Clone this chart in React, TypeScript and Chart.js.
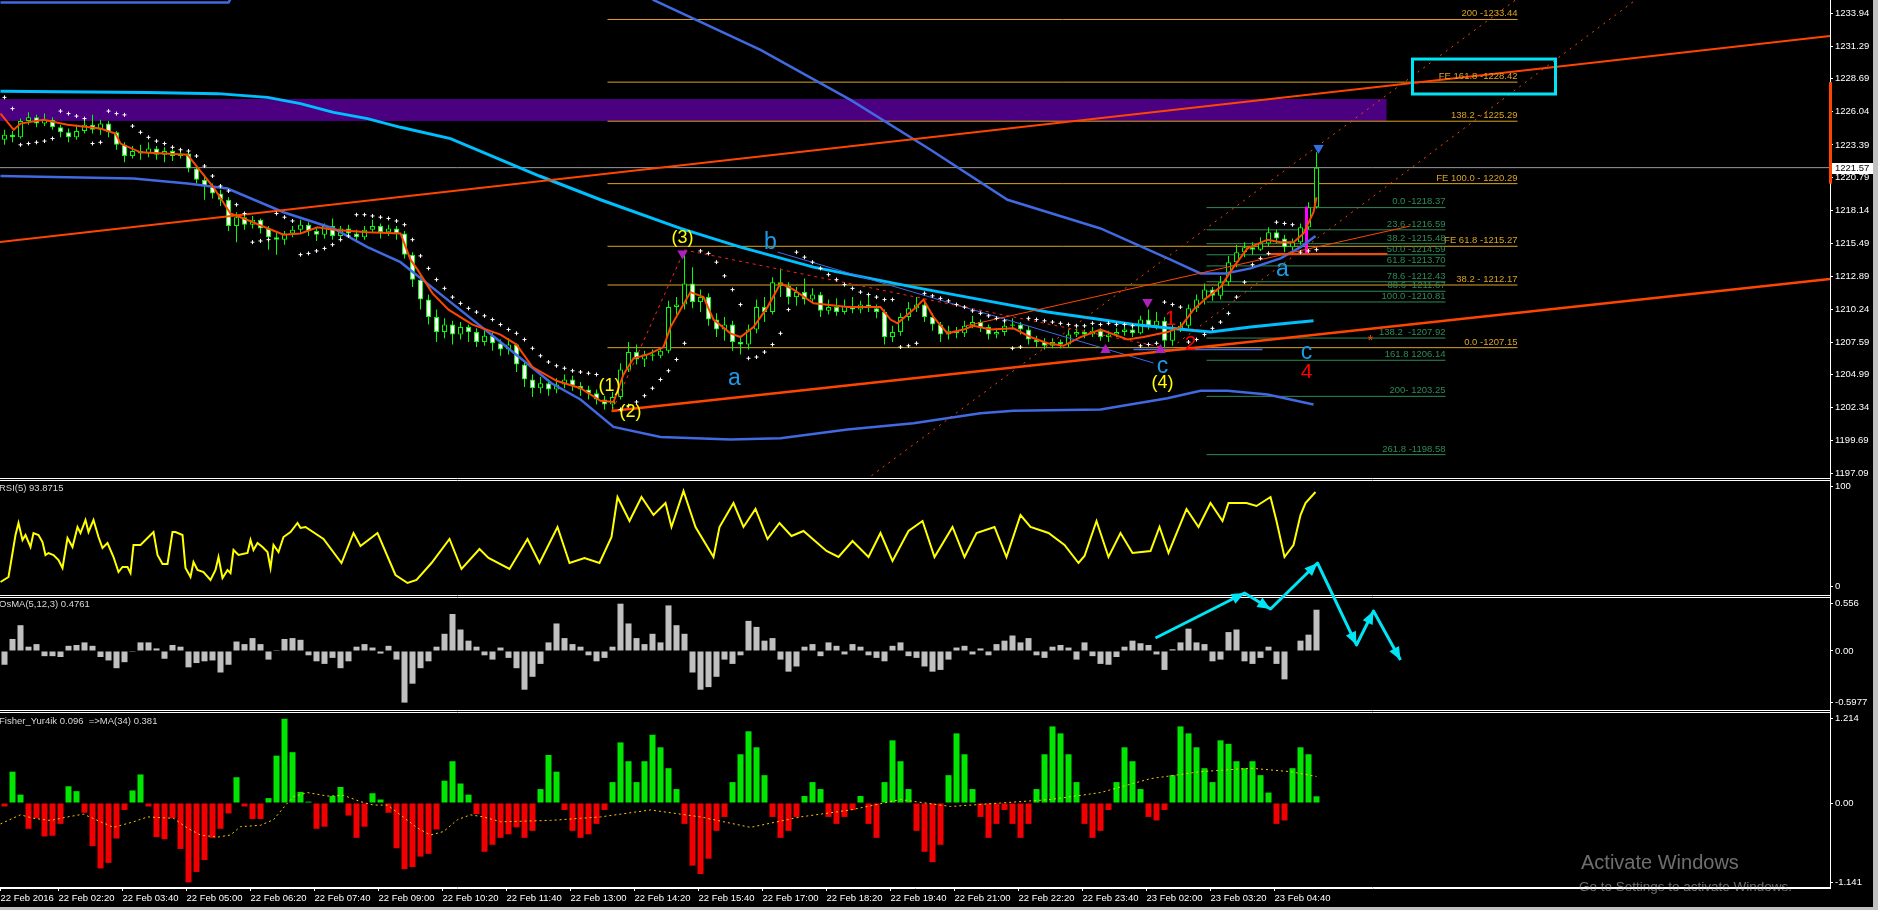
import React, { useEffect, useRef } from "react";
import { Chart, registerables } from "chart.js";

Chart.register(...registerables);

// ================= time axis (x = 5-minute slot index) =================
const TIME_TICKS = [0, 14.5, 30.5, 46.5, 62.5, 78.5, 94.5, 110.5, 126.5, 142.5, 158.5, 174.5, 190.5, 206.5, 222.5, 238.5, 254.5, 270.5, 286.5, 302.5, 318.5];
const TIME_LABELS = ["22 Feb 2016", "22 Feb 02:20", "22 Feb 03:40", "22 Feb 05:00", "22 Feb 06:20", "22 Feb 07:40", "22 Feb 09:00", "22 Feb 10:20", "22 Feb 11:40", "22 Feb 13:00", "22 Feb 14:20", "22 Feb 15:40", "22 Feb 17:00", "22 Feb 18:20", "22 Feb 19:40", "22 Feb 21:00", "22 Feb 22:20", "22 Feb 23:40", "23 Feb 02:00", "23 Feb 03:20", "23 Feb 04:40"];
const X_RANGE = [-0.125, 457.375];

// ================= candles (one candle per two slots) =================
const OPEN = [
  1223.8, 1224.2, 1224.0, 1225.3, 1225.6, 1225.1, 1225.4, 1224.8, 1224.4, 1224.0,
  1224.5, 1225.0, 1224.6, 1225.1, 1224.4, 1223.4, 1222.5, 1222.9, 1222.7, 1223.1,
  1222.6, 1222.9, 1222.5, 1222.7, 1221.5, 1220.6, 1220.1, 1219.5, 1219.0, 1216.9,
  1217.6, 1217.0, 1217.4, 1216.7, 1216.0, 1215.8, 1216.3, 1216.6, 1217.0, 1216.5,
  1216.2, 1216.9, 1216.1, 1216.7, 1216.3, 1216.0, 1216.6, 1216.9, 1216.4, 1216.7,
  1216.3, 1214.6, 1212.6, 1211.0, 1209.6, 1208.4, 1209.0, 1208.2, 1208.8, 1208.4,
  1207.6, 1208.1, 1207.5, 1207.0, 1207.4, 1205.8, 1204.6, 1203.9, 1204.3, 1203.8,
  1204.2, 1204.6, 1204.1, 1203.8, 1203.5, 1203.0, 1202.6, 1203.2, 1205.4, 1206.8,
  1206.2, 1206.6, 1206.5, 1206.9, 1210.4, 1210.6, 1212.3, 1210.8, 1211.2, 1209.4,
  1208.6, 1209.0, 1207.6, 1207.4, 1208.6, 1210.4, 1210.0, 1212.4, 1212.1, 1211.2,
  1211.6, 1211.0, 1211.4, 1210.1, 1210.4, 1210.0, 1210.5, 1210.2, 1210.6, 1210.3,
  1210.0, 1208.0, 1208.4, 1209.6, 1210.3, 1210.6, 1209.6, 1209.0, 1208.2, 1208.5,
  1208.3, 1208.9, 1209.2, 1208.8, 1208.2, 1208.4, 1208.9, 1209.0, 1208.6, 1207.8,
  1207.6, 1207.3, 1207.6, 1207.4, 1208.2, 1208.4, 1208.2, 1208.5, 1208.0, 1208.2,
  1208.4, 1208.6, 1208.3, 1209.4, 1208.9, 1209.3, 1207.7, 1208.6, 1208.9, 1210.3,
  1211.0, 1211.8, 1211.3, 1212.4, 1214.0, 1214.8, 1215.2, 1215.0, 1215.5, 1216.4,
  1215.9, 1215.2, 1215.6, 1216.8, 1218.4
];
const HIGH = [
  1224.6, 1224.5, 1225.5, 1226.0, 1225.8, 1225.9, 1225.6, 1225.0, 1224.7, 1225.0,
  1225.4, 1225.8, 1225.4, 1225.3, 1224.5, 1223.6, 1223.3, 1223.4, 1223.6, 1223.3,
  1223.2, 1223.0, 1223.1, 1222.9, 1221.7, 1221.0, 1220.3, 1219.8, 1219.2, 1218.0,
  1217.8, 1217.7, 1217.5, 1216.9, 1216.4, 1216.5, 1216.9, 1217.4, 1217.2, 1216.8,
  1217.1, 1217.5, 1216.9, 1217.0, 1216.6, 1216.9, 1217.4, 1217.1, 1217.0, 1216.9,
  1216.5, 1214.8, 1213.0, 1211.4, 1210.2, 1209.5, 1209.3, 1209.2, 1209.0, 1208.7,
  1208.6, 1208.4, 1207.8, 1207.9, 1207.5, 1206.0, 1205.0, 1204.8, 1204.6, 1204.7,
  1205.0, 1204.9, 1204.4, 1204.1, 1203.8, 1203.3, 1203.6, 1205.9, 1207.6, 1207.4,
  1206.9, 1207.0, 1207.2, 1210.9, 1211.2, 1214.8, 1213.6, 1211.8, 1211.5, 1209.9,
  1209.6, 1209.3, 1208.1, 1209.0, 1211.0, 1211.2, 1212.8, 1213.5, 1212.4, 1212.0,
  1212.7, 1211.9, 1211.6, 1211.0, 1211.1, 1211.0, 1211.2, 1210.9, 1211.4, 1210.6,
  1210.2, 1208.9, 1209.9, 1210.8, 1211.2, 1210.9, 1209.9, 1209.2, 1208.9, 1208.8,
  1209.3, 1209.7, 1209.4, 1209.0, 1208.7, 1209.4, 1209.5, 1209.2, 1208.9, 1208.1,
  1207.9, 1207.9, 1207.8, 1208.6, 1208.7, 1208.6, 1208.8, 1208.7, 1208.5, 1208.7,
  1208.9, 1208.8, 1209.7, 1210.2, 1210.0, 1209.6, 1209.0, 1209.2, 1210.6, 1211.4,
  1212.3, 1212.0, 1212.9, 1214.5, 1215.4, 1215.6, 1215.6, 1216.0, 1216.8, 1216.6,
  1216.2, 1215.9, 1217.1, 1218.8, 1222.8
];
const LOW = [
  1223.4, 1223.6, 1223.9, 1225.0, 1224.8, 1224.9, 1224.6, 1224.0, 1223.6, 1223.8,
  1224.3, 1224.3, 1224.2, 1224.0, 1223.0, 1222.0, 1222.3, 1222.2, 1222.4, 1222.2,
  1222.0, 1222.1, 1222.3, 1221.2, 1220.3, 1219.0, 1219.1, 1218.5, 1216.5, 1215.6,
  1216.6, 1216.7, 1216.3, 1215.0, 1214.6, 1215.4, 1216.0, 1216.3, 1216.1, 1215.7,
  1215.9, 1215.8, 1215.7, 1216.0, 1215.6, 1215.8, 1216.4, 1215.9, 1216.1, 1215.8,
  1214.3, 1212.0, 1210.2, 1209.0, 1207.6, 1207.9, 1207.4, 1207.8, 1207.6, 1207.2,
  1207.3, 1206.9, 1206.5, 1206.6, 1205.2, 1204.0, 1203.2, 1203.5, 1203.3, 1203.5,
  1203.9, 1203.7, 1203.3, 1203.0, 1202.6, 1202.2, 1202.1, 1203.0, 1205.2, 1205.8,
  1205.6, 1206.1, 1206.3, 1206.7, 1209.8, 1210.2, 1210.3, 1210.0, 1208.9, 1208.0,
  1207.7, 1206.9, 1206.6, 1207.0, 1208.3, 1209.2, 1209.8, 1211.2, 1210.6, 1210.5,
  1210.6, 1210.8, 1209.6, 1209.8, 1209.7, 1209.8, 1209.9, 1209.9, 1210.0, 1209.5,
  1207.4, 1207.6, 1208.1, 1209.3, 1210.0, 1209.2, 1208.5, 1207.6, 1207.8, 1207.9,
  1208.0, 1208.7, 1208.4, 1207.8, 1207.9, 1208.1, 1208.6, 1208.2, 1207.4, 1207.2,
  1207.0, 1207.1, 1207.1, 1207.2, 1208.0, 1207.9, 1208.0, 1207.7, 1207.6, 1208.0,
  1208.1, 1208.0, 1208.2, 1208.6, 1208.6, 1207.1, 1207.3, 1208.4, 1208.7, 1210.0,
  1210.6, 1210.9, 1211.0, 1212.1, 1213.6, 1214.4, 1214.6, 1214.9, 1215.3, 1215.5,
  1214.8, 1214.9, 1215.4, 1216.6, 1218.3
];
const CLOSE = [
  1224.2, 1224.0, 1225.3, 1225.6, 1225.1, 1225.4, 1224.8, 1224.4, 1224.0, 1224.5,
  1225.0, 1224.6, 1225.1, 1224.4, 1223.4, 1222.5, 1222.9, 1222.7, 1223.1, 1222.6,
  1222.9, 1222.5, 1222.7, 1221.5, 1220.6, 1220.1, 1219.5, 1219.0, 1216.9, 1217.6,
  1217.0, 1217.4, 1216.7, 1216.0, 1215.8, 1216.3, 1216.6, 1217.0, 1216.5, 1216.2,
  1216.9, 1216.1, 1216.7, 1216.3, 1216.0, 1216.6, 1216.9, 1216.4, 1216.7, 1216.3,
  1214.6, 1212.6, 1211.0, 1209.6, 1208.4, 1209.0, 1208.2, 1208.8, 1208.4, 1207.6,
  1208.1, 1207.5, 1207.0, 1207.4, 1205.8, 1204.6, 1203.9, 1204.3, 1203.8, 1204.2,
  1204.6, 1204.1, 1203.8, 1203.5, 1203.0, 1202.6, 1203.2, 1205.4, 1206.8, 1206.2,
  1206.6, 1206.5, 1206.9, 1210.4, 1210.6, 1212.3, 1210.8, 1211.2, 1209.4, 1208.6,
  1209.0, 1207.6, 1207.4, 1208.6, 1210.4, 1210.0, 1212.4, 1212.1, 1211.2, 1211.6,
  1211.0, 1211.4, 1210.1, 1210.4, 1210.0, 1210.5, 1210.2, 1210.6, 1210.3, 1210.0,
  1208.0, 1208.4, 1209.6, 1210.3, 1210.6, 1209.6, 1209.0, 1208.2, 1208.5, 1208.3,
  1208.9, 1209.2, 1208.8, 1208.2, 1208.4, 1208.9, 1209.0, 1208.6, 1207.8, 1207.6,
  1207.3, 1207.6, 1207.4, 1208.2, 1208.4, 1208.2, 1208.5, 1208.0, 1208.2, 1208.4,
  1208.6, 1208.3, 1209.4, 1208.9, 1209.3, 1207.7, 1208.6, 1208.9, 1210.3, 1211.0,
  1211.8, 1211.3, 1212.4, 1214.0, 1214.8, 1215.2, 1215.0, 1215.5, 1216.4, 1215.9,
  1215.2, 1215.6, 1216.8, 1218.4, 1221.57
];

// Parabolic SAR, one value per candle (null = no dot)
const SAR = [
  1227.2, 1226.3, 1223.4, 1223.5, 1223.6, 1223.7, 1223.9, 1226.1, 1225.9, 1225.7,
  1225.5, 1223.5, 1223.6, 1226.1, 1225.9, 1225.8, 1224.9, 1224.4, 1224.0, 1223.7,
  1223.5, 1223.2, 1223.0, 1222.9, 1222.5, 1221.7, 1220.9, 1220.1, 1219.7, 1218.6,
  1217.9, 1215.6, 1215.7, 1215.8, 1217.9, 1217.6, 1217.3, 1214.6, 1214.7, 1214.9,
  1215.1, 1215.4, 1215.8, 1216.1, 1217.8, 1217.8, 1217.7, 1217.6, 1217.5, 1217.3,
  1217.0, 1215.8, 1214.5, 1213.5, 1212.6, 1211.9, 1211.2, 1210.7, 1210.3, 1210.0,
  1209.7, 1209.4, 1209.0, 1208.6, 1208.3, 1207.8, 1207.1, 1206.5, 1206.0, 1205.7,
  1205.5, 1205.3, 1205.2, 1205.1, 1205.0, null, null, 1202.2, 1202.5, 1202.8,
  1203.3, 1203.9, 1204.6, 1205.3, 1206.2, 1207.5, null, 1214.9, 1214.7, 1214.0,
  1212.9, 1211.8, 1210.6, 1206.3, 1206.4, 1206.8, 1207.4, 1208.3, 1210.2, 1214.8,
  1214.4, 1214.0, 1213.5, 1213.0, 1212.6, 1212.2, 1211.9, 1211.6, 1211.4, 1211.2,
  1211.0, 1211.0, 1207.2, 1207.3, 1207.5, 1211.5, 1211.3, 1211.1, 1210.9, 1210.6,
  1210.4, 1210.1, 1209.9, 1209.7, 1209.5, 1209.3, 1207.1, 1207.2, 1209.5, 1209.4,
  1209.3, 1209.2, 1209.1, 1209.0, 1208.9, 1208.9, 1209.1, 1209.0, 1209.1, 1209.0,
  1209.0, 1208.9, 1207.3, 1207.4, 1207.5, 1210.8, 1210.6, 1210.4, 1207.6, 1207.8,
  1208.2, 1208.7, 1209.2, 1209.9, 1211.2, 1212.4, 1213.8, 1214.3, 1214.7, 1217.2,
  1217.1, 1217.0, 1214.8, 1214.9, 1215.0
];

// ================= moving averages (slot, price) =================
const FAST_MA = [
  [0, 1225.9], [3.3, 1224.6], [5, 1225.1], [10.75, 1225.4], [16.75, 1225.0], [25, 1224.7], [28.75, 1224.3], [30, 1223.5],
  [35, 1222.8], [46.75, 1222.6], [49.25, 1221.6], [53.25, 1220.0], [57.5, 1217.9], [60, 1217.6], [70.75, 1216.2], [75, 1216.3],
  [79.25, 1216.8], [83.25, 1216.6], [91.75, 1216.4], [100, 1216.3], [102.5, 1214.2], [104.25, 1213.4], [108, 1211.5], [112, 1210.2],
  [118, 1209.0], [125, 1208.2], [129, 1207.4], [133, 1205.6], [139, 1204.5], [145, 1203.9], [150, 1202.9], [153.25, 1202.8],
  [155.75, 1205.0], [158.25, 1206.3], [161.75, 1206.6], [165.75, 1207.2], [167.5, 1208.8], [170, 1210.2], [172.5, 1211.6], [175.75, 1211.2],
  [178.25, 1209.4], [182.5, 1208.3], [185, 1208.0], [188.25, 1208.8], [191.75, 1210.4], [195, 1212.3], [198.25, 1211.8], [203.25, 1210.7],
  [211.75, 1210.4], [220, 1210.4], [222.5, 1209.4], [224.25, 1209.1], [228.25, 1210.2], [230.75, 1211.0], [233.25, 1209.6], [236.75, 1208.3],
  [240.75, 1208.6], [243.25, 1208.9], [247.5, 1208.6], [253.25, 1208.7], [257.5, 1208.0], [261.75, 1207.5], [265.75, 1207.3], [270, 1208.0],
  [275, 1208.6], [281.75, 1207.8], [285.75, 1208.0], [291.75, 1208.4], [295, 1208.8], [298.25, 1210.2], [301.75, 1211.2], [305, 1212.0],
  [308.25, 1213.6], [311.75, 1215.1], [316.75, 1215.8], [320, 1215.6], [323.25, 1215.6], [325.75, 1216.3], [328.25, 1218.0], [329, 1219.2]
];
const CYAN_MA = [
  [0, 1227.7], [36.75, 1227.6], [54.25, 1227.5], [66.75, 1227.2], [75, 1226.7], [83.25, 1226.0], [91.75, 1225.5], [100, 1224.8],
  [112.5, 1223.9], [134.75, 1220.9], [150, 1219.0], [170, 1216.7], [185, 1215.2], [203.25, 1213.6], [228.25, 1212.0], [245, 1211.0],
  [261.75, 1210.0], [275, 1209.4], [283.25, 1209.0], [295.75, 1208.6], [302.5, 1208.4], [312.5, 1208.8], [321.75, 1209.1], [328.25, 1209.3]
];
const BLUE_UPPER = [
  [0, 1234.8], [57, 1234.8], [60, 1236.5], [160, 1236.5], [163.25, 1235.0], [190, 1231.0], [212.5, 1227.0], [232.5, 1223.0],
  [251.75, 1219.0], [275, 1216.7], [292.5, 1214.2], [300, 1213.1], [306.25, 1213.1], [312.5, 1213.5], [320, 1214.3], [325, 1215.2], [328.75, 1216.1]
];
const BLUE_LOWER = [
  [0, 1220.9], [33.25, 1220.7], [46.75, 1220.3], [56.75, 1219.9], [70.75, 1218.0], [83.25, 1216.7], [91.75, 1215.2], [100, 1214.0],
  [112.5, 1210.8], [125, 1207.6], [137.75, 1204.3], [145, 1203.0], [153.25, 1200.8], [165, 1200.0], [182.5, 1199.8], [195, 1199.9],
  [211.75, 1200.6], [228.25, 1201.1], [245, 1201.9], [253.25, 1202.1], [275, 1202.2], [291.75, 1203.1], [300, 1203.7], [306.75, 1203.7],
  [316.75, 1203.4], [328.25, 1202.6]
];

// ================= drawn objects (slot, price) =================
const LAST_PRICE = 1221.57;
const CHANNEL_UPPER = [[-0.125, 1215.62], [457.375, 1232.12]];
const CHANNEL_LOWER = [[152.75, 1202.08], [457.375, 1212.65]];
const TREND_THIN = [[241.25, 1208.89], [352.5, 1216.9]];
const DOT_LINE_A = [[217.75, 1196.9], [378.75, 1235.0]];
const DOT_LINE_B = [[294.25, 1207.53], [408.75, 1235.0]];
const WAVE_DASH = [[153, 1202.16], [171, 1214.98], [291.25, 1207.13]];
const BLUE_TREND = [[194.25, 1214.81], [288.25, 1205.92]];
const RED_LEVEL = [[316.75, 1214.65], [346.75, 1214.65]];
const BLUE_LEVEL = [[283.25, 1207.0], [315.5, 1207.0]];

const FE_LEVELS = [1233.44, 1228.42, 1225.29, 1220.29, 1215.27, 1212.17, 1207.15];
const FE_LABELS = ["200 -1233.44", "FE 161.8 -1228.42", "138.2 - 1225.29", "FE 100.0 - 1220.29", "FE 61.8 -1215.27", "38.2 - 1212.17", "0.0 -1207.15"];
const FE_SPAN = [151.75, 379.25];
const FIB_LEVELS = [1218.37, 1216.59, 1215.48, 1214.59, 1213.70, 1212.43, 1211.67, 1210.81, 1207.92, 1206.14, 1203.25, 1198.58];
const FIB_LABELS = ["0.0 -1218.37", "23.6 -1216.59", "38.2 -1215.48", "50.0 -1214.59", "61.8 -1213.70", "78.6 -1212.43", "88.6 -1211.67", "100.0 -1210.81", "138.2  -1207.92", "161.8 1206.14", "200- 1203.25", "261.8 -1198.58"];
const FIB_SPAN = [301.5, 361.25];

const ZONE = [-0.125, 346.5, 1227.07, 1225.31];
const TARGET_BOX = [353, 388.75, 1230.27, 1227.47];
const AXIS_MARK = [1228.42, 1220.29];

const WAVE_YELLOW = [["(1)", 152.25, 1204.08], ["(2)", 157.5, 1202.0], ["(3)", 170.5, 1215.94], ["(4)", 290.5, 1204.32]];
const WAVE_BLUE = [["a", 183.5, 1204.64], ["b", 192.5, 1215.54], ["c", 290.5, 1205.6], ["a", 320.5, 1213.37], ["c", 326.5, 1206.72]];
const WAVE_RED = [["1", 292.5, 1209.4], ["2", 297.5, 1207.4], ["4", 326.5, 1205.2]];
const STAR_MARK = [["*", 342.5, 1207.7]];
const ARROWS_DOWN_MAGENTA = [[170.5, 1214.7], [286.75, 1210.8]];
const ARROWS_UP_MAGENTA = [[276.25, 1206.97], [290, 1206.97]];
const ARROWS_DOWN_BLUE = [[329.5, 1223.15]];
const MAGENTA_BAR = [[326.5, 1214.7, 1218.45]];

// ================= RSI(5) (slot, value) =================
const RSI = [
  [0, 4], [2, 9], [3, 33], [3.75, 51], [4.5, 63], [5.5, 46], [6.25, 51], [7.5, 39], [8.25, 53], [9.5, 51],
  [10.5, 44], [11.25, 31], [12, 33], [13.25, 31], [14.5, 26], [15.5, 18], [16.75, 48], [18, 39], [19.25, 59], [20, 53],
  [21.25, 66], [22, 54], [23.25, 66], [24.5, 49], [25.5, 38], [26.75, 43], [28.25, 29], [29.5, 14], [30.5, 19], [31.75, 19],
  [32.5, 13], [33.25, 41], [35, 41], [36.75, 48], [38.25, 54], [39.25, 31], [40.5, 22], [41.75, 22], [43, 54], [43.75, 54],
  [45.5, 51], [46.25, 18], [47.5, 9], [48.25, 24], [49.25, 16], [50.75, 14], [52.5, 6], [53.75, 16], [54.5, 29], [55.5, 8],
  [56.75, 16], [57.5, 13], [58.25, 36], [59.5, 31], [61.75, 33], [62.5, 46], [63.25, 36], [64.25, 43], [65.5, 39], [66.75, 34],
  [67.5, 18], [68.25, 41], [69.5, 34], [70.75, 49], [72.5, 54], [74.25, 63], [75, 58],
  [76.25, 59], [80.75, 47], [85.25, 23], [88.25, 53], [90, 40], [94.25, 53], [98.75, 11], [101.75, 3], [104, 6], [107.75, 23],
  [112.25, 47], [115.25, 17], [119.75, 37], [122, 28], [127.25, 17], [131.75, 47], [134.75, 23], [139.25, 59], [142.25, 23], [146, 28],
  [149.75, 23], [152.75, 49], [154.25, 89], [157.25, 65], [160.25, 89], [163.25, 71], [166.25, 83], [167.75, 59], [170.75, 95], [173.75, 59],
  [178.25, 29], [179.75, 59], [183.25, 83], [185.75, 59], [188.75, 77], [191.75, 47], [194.75, 63], [197.75, 50], [200.75, 55], [206.5, 35],
  [209.5, 29], [213, 45], [217, 29], [220, 53], [223, 25], [227, 55], [230.5, 65], [233.5, 29], [238, 59], [241, 29],
  [244, 53], [248.5, 59], [251.5, 29], [255, 71], [257.5, 59], [262, 53], [266, 41], [269.5, 23], [271, 30], [274, 65],
  [277, 29], [280, 53], [283, 33], [287.5, 35], [289.75, 59], [292, 33], [296.5, 77], [299.5, 59], [302.5, 83], [305.5, 65],
  [307, 83], [311.5, 83], [314, 80], [317.5, 89], [319, 65], [321, 29], [323.25, 41], [325, 71], [326.25, 83], [328.75, 94]
];

// ================= OsMA(5,12,3), one value per candle =================
const OSMA = [
  -0.16, 0.14, 0.3, 0.05, 0.08, -0.06, -0.06, -0.07, 0.06, 0.07,
  0.10, 0.06, -0.07, -0.11, -0.2, -0.13, -0.01, 0.10, 0.10, 0.03,
  -0.09, 0.07, 0.05, -0.19, -0.14, -0.12, -0.11, -0.25, -0.16, 0.11,
  0.08, 0.15, 0.08, -0.1, 0.01, 0.14, 0.15, 0.13, -0.05, -0.12,
  -0.15, -0.08, -0.2, -0.12, 0.05, 0.08, 0.04, -0.03, 0.06, -0.1,
  -0.6, -0.38, -0.2, -0.12, 0.05, 0.2, 0.43, 0.25, 0.12, 0.05,
  -0.05, -0.1, 0.04, -0.08, -0.2, -0.45, -0.3, -0.15, 0.1, 0.32,
  0.15, 0.08, 0.05, -0.05, -0.12, -0.08, 0.05, 0.55, 0.32, 0.15,
  0.08, 0.2, 0.1, 0.53, 0.3, 0.2, -0.25, -0.45, -0.42, -0.3,
  -0.1, -0.15, -0.05, 0.35, 0.28, 0.12, 0.15, -0.1, -0.24, -0.18,
  0.05, 0.08, -0.06, 0.1, 0.06, -0.04, 0.08, 0.05, -0.05, -0.08,
  -0.12, 0.06, 0.1, -0.06, -0.08, -0.18, -0.24, -0.22, -0.1, 0.04,
  0.06, -0.04, 0.03, -0.05, 0.08, 0.12, 0.18, 0.1, 0.15, -0.05,
  -0.08, 0.05, 0.07, 0.04, -0.1, 0.1, -0.06, -0.15, -0.16, -0.07,
  0.05, 0.12, 0.09, 0.07, -0.04, -0.22, 0.02, 0.1, 0.26, 0.1,
  0.08, -0.12, -0.1, 0.22, 0.25, -0.12, -0.15, -0.08, 0.05, -0.15,
  -0.33, 0.0, 0.12, 0.19, 0.48
];
const ZIGZAG = [[288.75, 0.151], [311, 0.674], [317.5, 0.488], [329.25, 1.023], [339, 0.07], [343.25, 0.465], [350, -0.105]];

// ================= Fisher_Yur4ik, one value per candle =================
const FISHER = [
  -0.05, 0.45, 0.12, -0.37, -0.22, -0.48, -0.47, -0.3, 0.24, 0.17,
  -0.14, -0.62, -0.94, -0.86, -0.51, -0.1, 0.18, 0.41, -0.05, -0.49,
  -0.52, -0.22, -0.66, -1.14, -0.99, -0.82, -0.5, -0.37, -0.15, 0.37,
  -0.05, -0.23, -0.23, 0.07, 0.68, 1.21, 0.73, 0.16, 0.02, -0.37,
  -0.34, 0.1, 0.23, -0.18, -0.5, -0.34, 0.14, 0.05, -0.14, -0.65,
  -0.95, -0.92, -0.77, -0.73, -0.38, 0.32, 0.6, 0.28, 0.12, -0.16,
  -0.7, -0.6, -0.5, -0.45, -0.35, -0.5, -0.4, 0.2, 0.69, 0.45,
  -0.1, -0.4, -0.5, -0.45, -0.3, -0.1, 0.3, 0.87, 0.6, 0.3,
  0.6, 0.98, 0.8, 0.5, 0.2, -0.3, -0.9, -1.02, -0.8, -0.4,
  -0.2, 0.3, 0.7, 1.03, 0.8, 0.4, -0.2, -0.5, -0.4, -0.2,
  0.1, 0.3, 0.2, -0.2, -0.3, -0.2, -0.1, 0.1, -0.3, -0.5,
  0.3, 0.9, 0.6, 0.2, -0.4, -0.7, -0.85, -0.6, 0.4, 1.0,
  0.7, 0.2, -0.2, -0.5, -0.3, -0.1, -0.3, -0.5, -0.3, 0.2,
  0.7, 1.1, 1.0, 0.7, 0.3, -0.3, -0.5, -0.4, -0.1, 0.3,
  0.8, 0.6, 0.2, -0.2, -0.25, -0.1, 0.4, 1.1, 1.0, 0.8,
  0.5, 0.3, 0.9, 0.85, 0.6, 0.5, 0.6, 0.4, 0.15, -0.3,
  -0.25, 0.5, 0.8, 0.7, 0.096
];
const FISHER_MA = [
  [0, -0.3], [5, -0.17], [8.25, -0.22], [12.5, -0.25], [16.75, -0.2], [20.75, -0.16], [25, -0.27], [28.25, -0.35], [33.25, -0.27],
  [36.75, -0.2], [43.25, -0.22], [46.75, -0.36], [50, -0.46], [54.25, -0.49], [57.5, -0.46], [60, -0.34], [65, -0.32], [68.25, -0.24],
  [71.75, 0], [73.25, 0.09], [76.75, 0.15], [81.75, 0.1], [85.75, 0.11], [90, 0.02], [93.25, -0.03], [96.75, -0.03], [100, -0.17],
  [104.25, -0.36], [107.5, -0.46], [110.75, -0.41], [114.25, -0.24], [117.5, -0.17], [120.75, -0.2], [125, -0.27], [137.5, -0.25],
  [150, -0.2], [162.5, -0.1], [175, -0.2], [187.5, -0.35], [200, -0.2], [212.5, -0.1], [225, 0.05], [237.5, -0.05], [250, 0],
  [262.5, 0.05], [275, 0.15], [287.5, 0.35], [300, 0.45], [312.5, 0.5], [322.5, 0.45], [329, 0.38]
];

// ================= axes =================
const PRICE_RANGE = [1196.71, 1235.0];
const PRICE_TICKS = [1233.94, 1231.29, 1228.69, 1226.04, 1223.39, 1220.79, 1218.14, 1215.49, 1212.89, 1210.24, 1207.59, 1204.99, 1202.34, 1199.69, 1197.09];
const PRICE_TICK_LABELS = ["1233.94", "1231.29", "1228.69", "1226.04", "1223.39", "1220.79", "1218.14", "1215.49", "1212.89", "1210.24", "1207.59", "1204.99", "1202.34", "1199.69", "1197.09"];
const RSI_RANGE = [-9, 108];
const RSI_TICKS = [100, 0];
const RSI_TICK_LABELS = ["100", "0"];
const OSMA_RANGE = [-0.686, 0.651];
const OSMA_TICKS = [0.556, 0, -0.5977];
const OSMA_TICK_LABELS = ["0.556", "0.00", "-0.5977"];
const FISHER_RANGE = [-1.221, 1.336];
const FISHER_TICKS = [1.214, 0, -1.141];
const FISHER_TICK_LABELS = ["1.214", "0.00", "-1.141"];
const PANE_WEIGHTS = [478, 117, 115, 178];

const TITLE_RSI = "RSI(5) 93.8715";
const TITLE_OSMA = "OsMA(5,12,3) 0.4761";
const TITLE_FISHER = "Fisher_Yur4ik 0.096  =>MA(34) 0.381";

const AXIS_FONT = "'Liberation Sans', Arial, sans-serif";
const SMALL = 9.5;
const TEXT_FONT = "'Liberation Sans', Arial, sans-serif";

const pts = (pairs: any[]) => pairs.map((p: any) => ({ x: p[0], y: p[1] }));
const slotOf = (i: number) => 2 * i + 1;

function lineDs(data: any[], color: string, width: number, yAxisID: string, order: number, extra: any = {}) {
  return {
    type: "line",
    data: pts(data),
    borderColor: color,
    backgroundColor: color,
    borderWidth: width,
    pointRadius: 0,
    fill: false,
    tension: 0,
    xAxisID: "x",
    yAxisID,
    order,
    ...extra,
  };
}

function yAxis(weight: number, range: number[], ticks: number[], labels: string[]) {
  return {
    type: "linear",
    position: "right",
    stack: "panes",
    stackWeight: weight,
    min: range[0],
    max: range[1],
    beginAtZero: false,
    afterBuildTicks: (s: any) => {
      s.ticks = ticks.map((v) => ({ value: v }));
    },
    afterFit: (s: any) => {
      s.width = 48;
      s.paddingTop = 0;
      s.paddingBottom = 0;
      s.paddingLeft = 0;
      s.paddingRight = 0;
    },
    grid: { display: true, drawOnChartArea: false, drawTicks: true, tickLength: 3, color: "#ffffff", lineWidth: 1 },
    border: { display: true, color: "#ffffff", width: 1 },
    ticks: {
      color: "#ffffff",
      font: { family: AXIS_FONT, size: SMALL },
      padding: 2,
      autoSkip: false,
      callback: (_v: any, i: number) => labels[i],
    },
  };
}

function clipMain(chart: any) {
  const xs = chart.scales.x, ys = chart.scales.y;
  const ctx = chart.ctx;
  ctx.beginPath();
  ctx.rect(xs.left, ys.top, xs.right - xs.left, ys.bottom - ys.top);
  ctx.clip();
}

function drawTexts(chart: any, items: any[], color: string, size: number) {
  const xs = chart.scales.x, ys = chart.scales.y, ctx = chart.ctx;
  ctx.fillStyle = color;
  ctx.font = `${size}px ${TEXT_FONT}`;
  ctx.textAlign = "center";
  ctx.textBaseline = "middle";
  items.forEach((it: any) => {
    ctx.fillText(it[0], xs.getPixelForValue(it[1]), ys.getPixelForValue(it[2]));
  });
}

const chartPlugin = {
  id: "mt4Decor",
  beforeDraw(chart: any) {
    const { ctx, width, height } = chart;
    ctx.save();
    ctx.fillStyle = "#000000";
    ctx.fillRect(0, 0, width, height);
    ctx.restore();
  },
  beforeDatasetsDraw(chart: any) {
    const ctx = chart.ctx, xs = chart.scales.x, ys = chart.scales.y;
    ctx.save();
    clipMain(chart);
    const x0 = xs.getPixelForValue(ZONE[0]), x1 = xs.getPixelForValue(ZONE[1]);
    const y0 = ys.getPixelForValue(ZONE[2]), y1 = ys.getPixelForValue(ZONE[3]);
    ctx.fillStyle = "#4b0082";
    ctx.fillRect(x0, y0, x1 - x0, y1 - y0);
    ctx.restore();
  },
  afterDatasetsDraw(chart: any) {
    const ctx = chart.ctx, xs = chart.scales.x, ys = chart.scales.y;
    ctx.save();
    clipMain(chart);
    ctx.font = `${SMALL}px ${AXIS_FONT}`;
    ctx.textAlign = "right";
    ctx.textBaseline = "bottom";
    ctx.fillStyle = "#daa520";
    FE_LEVELS.forEach((v, i) => ctx.fillText(FE_LABELS[i], xs.getPixelForValue(FE_SPAN[1]), ys.getPixelForValue(v) - 1));
    ctx.fillStyle = "#2e8b57";
    FIB_LEVELS.forEach((v, i) => ctx.fillText(FIB_LABELS[i], xs.getPixelForValue(FIB_SPAN[1]), ys.getPixelForValue(v) - 1));
    drawTexts(chart, WAVE_YELLOW, "#ffff00", 18);
    drawTexts(chart, WAVE_BLUE, "#1e9be6", 23);
    drawTexts(chart, WAVE_RED, "#ff0000", 21);
    drawTexts(chart, STAR_MARK, "#ff4500", 15);
    const bx0 = xs.getPixelForValue(TARGET_BOX[0]), bx1 = xs.getPixelForValue(TARGET_BOX[1]);
    const by0 = ys.getPixelForValue(TARGET_BOX[2]), by1 = ys.getPixelForValue(TARGET_BOX[3]);
    ctx.strokeStyle = "#00e5f5";
    ctx.lineWidth = 3;
    ctx.strokeRect(bx0, by0, bx1 - bx0, by1 - by0);
    ctx.restore();
  },
  afterDraw(chart: any) {
    const ctx = chart.ctx, xs = chart.scales.x, ys = chart.scales.y;
    const rs = chart.scales.yRsi, os = chart.scales.yOsma, fs = chart.scales.yFis;
    ctx.save();
    ctx.strokeStyle = "#ffffff";
    ctx.lineWidth = 1;
    const borders = [ys.bottom - 0.5, rs.top + 1.5, rs.bottom - 0.5, os.top + 1.5, os.bottom - 0.5, fs.top + 1.5, fs.bottom - 1.5];
    borders.forEach((y) => {
      ctx.beginPath();
      ctx.moveTo(0, Math.round(y) + 0.5);
      ctx.lineTo(xs.right, Math.round(y) + 0.5);
      ctx.stroke();
    });
    ctx.fillStyle = "#ff4500";
    const m0 = ys.getPixelForValue(AXIS_MARK[0]), m1 = ys.getPixelForValue(AXIS_MARK[1]);
    ctx.fillRect(xs.right - 1, m0, 3, m1 - m0);
    const py = ys.getPixelForValue(LAST_PRICE);
    ctx.fillStyle = "#ffffff";
    ctx.fillRect(xs.right + 2, Math.round(py) - 5, 41, 11);
    ctx.fillStyle = "#000000";
    ctx.font = `${SMALL}px ${AXIS_FONT}`;
    ctx.textAlign = "left";
    ctx.textBaseline = "middle";
    ctx.fillText(LAST_PRICE.toFixed(2), xs.right + 5, Math.round(py) + 0.5);
    ctx.fillStyle = "#d8d8d8";
    ctx.fillText(TITLE_RSI, -1, rs.top + 10);
    ctx.fillText(TITLE_OSMA, -1, os.top + 9);
    ctx.fillText(TITLE_FISHER, -1, fs.top + 11);
    ctx.strokeStyle = "#00e5f5";
    ctx.fillStyle = "#00e5f5";
    ctx.lineWidth = 3;
    ctx.lineJoin = "round";
    const zp = ZIGZAG.map((p) => [xs.getPixelForValue(p[0]), os.getPixelForValue(p[1])]);
    ctx.beginPath();
    zp.forEach((p, i) => (i === 0 ? ctx.moveTo(p[0], p[1]) : ctx.lineTo(p[0], p[1])));
    ctx.stroke();
    for (let i = 1; i < zp.length; i++) {
      const [ax, ay] = zp[i - 1];
      const [bx, by] = zp[i];
      const ang = Math.atan2(by - ay, bx - ax);
      const L = 13, Wd = 5.5;
      ctx.beginPath();
      ctx.moveTo(bx, by);
      ctx.lineTo(bx - L * Math.cos(ang) + Wd * Math.sin(ang), by - L * Math.sin(ang) - Wd * Math.cos(ang));
      ctx.lineTo(bx - L * Math.cos(ang) - Wd * Math.sin(ang), by - L * Math.sin(ang) + Wd * Math.cos(ang));
      ctx.closePath();
      ctx.fill();
    }
    ctx.fillStyle = "rgba(200,200,200,0.55)";
    ctx.textAlign = "left";
    ctx.textBaseline = "middle";
    ctx.font = `20px ${TEXT_FONT}`;
    ctx.fillText("Activate Windows", 1581, 863);
    ctx.font = `13.5px ${TEXT_FONT}`;
    ctx.fillText("Go to Settings to activate Windows.", 1579, 887);
    ctx.fillStyle = "#c0c0c0";
    ctx.fillRect(1873, 0, 5, 910);
    ctx.fillRect(0, 907, 1878, 3);
    ctx.restore();
  },
};

function buildConfig() {
  const ds: any[] = [];
  FE_LEVELS.forEach((v) => ds.push(lineDs([[FE_SPAN[0], v], [FE_SPAN[1], v]], "#daa520", 1, "y", 50)));
  FIB_LEVELS.forEach((v) => ds.push(lineDs([[FIB_SPAN[0], v], [FIB_SPAN[1], v]], "#2e8b57", 1, "y", 50)));
  ds.push(lineDs([[X_RANGE[0], LAST_PRICE], [X_RANGE[1], LAST_PRICE]], "#9a9a9a", 1, "y", 50));

  ds.push({
    type: "bar",
    data: OPEN.map((_o, i) => ({ x: slotOf(i), y: [LOW[i], HIGH[i]] })),
    xAxisID: "x",
    yAxisID: "y",
    barThickness: 1,
    backgroundColor: "#00ff00",
    borderWidth: 0,
    grouped: false,
    inflateAmount: 0,
    order: 41,
  });
  ds.push({
    type: "bar",
    data: OPEN.map((o, i) => ({ x: slotOf(i), y: [o, CLOSE[i]] })),
    xAxisID: "x",
    yAxisID: "y",
    barThickness: 5,
    backgroundColor: (c: any) => (CLOSE[c.dataIndex] >= OPEN[c.dataIndex] ? "#000000" : "#ffffff"),
    borderColor: "#00ff00",
    borderWidth: 1,
    borderSkipped: false,
    grouped: false,
    inflateAmount: 0,
    order: 40,
  });
  ds.push({
    type: "bar",
    data: MAGENTA_BAR.map((m) => ({ x: m[0], y: [m[1], m[2]] })),
    xAxisID: "x",
    yAxisID: "y",
    barThickness: 3,
    backgroundColor: "#ff00ff",
    borderWidth: 0,
    grouped: false,
    inflateAmount: 0,
    order: 39,
  });

  ds.push(lineDs(BLUE_UPPER, "#4169e1", 2.5, "y", 30));
  ds.push(lineDs(BLUE_LOWER, "#4169e1", 2.5, "y", 30));
  ds.push(lineDs(CYAN_MA, "#00bfff", 3, "y", 29));
  ds.push(lineDs(FAST_MA, "#ff4500", 2, "y", 28));

  ds.push(lineDs(CHANNEL_UPPER, "#ff4500", 2, "y", 20));
  ds.push(lineDs(CHANNEL_LOWER, "#ff4500", 2.5, "y", 20));
  ds.push(lineDs(TREND_THIN, "#ff4500", 1, "y", 20));
  ds.push(lineDs(RED_LEVEL, "#ff4500", 2, "y", 20));
  ds.push(lineDs(DOT_LINE_A, "#ff4500", 1, "y", 20, { borderDash: [2, 5] }));
  ds.push(lineDs(DOT_LINE_B, "#ff4500", 1, "y", 20, { borderDash: [2, 5] }));
  ds.push(lineDs(WAVE_DASH, "#ff2020", 1, "y", 20, { borderDash: [3, 4] }));
  ds.push(lineDs(BLUE_TREND, "#4169e1", 1, "y", 20));
  ds.push(lineDs(BLUE_LEVEL, "#4169e1", 1.5, "y", 20));

  ds.push({
    type: "line",
    data: SAR.map((v, i) => ({ x: slotOf(i), y: v })).filter((p) => p.y !== null),
    showLine: false,
    pointStyle: "cross",
    pointRadius: 2,
    pointBorderWidth: 1,
    pointBorderColor: "#ffffff",
    pointBackgroundColor: "#ffffff",
    xAxisID: "x",
    yAxisID: "y",
    order: 10,
  });
  const arrows = (data: any[], color: string, rot: number, r: number) => ({
    type: "line",
    data: pts(data),
    showLine: false,
    pointStyle: "triangle",
    pointRotation: rot,
    pointRadius: r,
    pointBorderWidth: 0,
    pointBackgroundColor: color,
    pointBorderColor: color,
    xAxisID: "x",
    yAxisID: "y",
    order: 5,
  });
  ds.push(arrows(ARROWS_DOWN_MAGENTA, "#b020c0", 180, 6));
  ds.push(arrows(ARROWS_UP_MAGENTA, "#b020c0", 0, 6));
  ds.push(arrows(ARROWS_DOWN_BLUE, "#2f6fe0", 180, 6));

  ds.push(lineDs(RSI, "#ffff00", 2, "yRsi", 1));
  ds.push({
    type: "bar",
    data: OSMA.map((v, i) => ({ x: slotOf(i), y: v })),
    xAxisID: "x",
    yAxisID: "yOsma",
    barThickness: 6,
    backgroundColor: "#c0c0c0",
    borderWidth: 0,
    grouped: false,
    inflateAmount: 0,
    order: 2,
  });
  ds.push({
    type: "bar",
    data: FISHER.map((v, i) => ({ x: slotOf(i), y: v })),
    xAxisID: "x",
    yAxisID: "yFis",
    barThickness: 6,
    backgroundColor: (c: any) => (c.raw && c.raw.y >= 0 ? "#00e600" : "#f00000"),
    borderWidth: 0,
    grouped: false,
    inflateAmount: 0,
    order: 3,
  });
  ds.push(lineDs(FISHER_MA, "#ffc800", 1, "yFis", 1, { borderDash: [2, 3] }));

  return {
    type: "bar",
    data: { datasets: ds },
    plugins: [chartPlugin],
    options: {
      responsive: false,
      maintainAspectRatio: false,
      devicePixelRatio: 1,
      animation: false,
      events: [],
      layout: { padding: 0, autoPadding: false },
      plugins: { legend: { display: false }, tooltip: { enabled: false } },
      scales: {
        x: {
          type: "linear",
          position: "bottom",
          min: X_RANGE[0],
          max: X_RANGE[1],
          offset: false,
          afterBuildTicks: (s: any) => {
            s.ticks = TIME_TICKS.map((v) => ({ value: v }));
          },
          afterFit: (s: any) => {
            s.height = 22;
            s.paddingLeft = 0;
            s.paddingRight = 0;
          },
          grid: { display: true, offset: false, drawOnChartArea: false, drawTicks: true, tickLength: 3, color: "#ffffff" },
          border: { display: true, color: "#ffffff", width: 1 },
          ticks: {
            color: "#ffffff",
            font: { family: AXIS_FONT, size: SMALL },
            padding: 2,
            align: "start",
            autoSkip: false,
            maxRotation: 0,
            minRotation: 0,
            callback: (_v: any, i: number) => TIME_LABELS[i],
          },
        },
        y: yAxis(PANE_WEIGHTS[0], PRICE_RANGE, PRICE_TICKS, PRICE_TICK_LABELS),
        yRsi: yAxis(PANE_WEIGHTS[1], RSI_RANGE, RSI_TICKS, RSI_TICK_LABELS),
        yOsma: yAxis(PANE_WEIGHTS[2], OSMA_RANGE, OSMA_TICKS, OSMA_TICK_LABELS),
        yFis: yAxis(PANE_WEIGHTS[3], FISHER_RANGE, FISHER_TICKS, FISHER_TICK_LABELS),
      },
    },
  };
}

export default function App() {
  const ref = useRef<HTMLCanvasElement>(null);
  useEffect(() => {
    const canvas = ref.current;
    if (!canvas) return;
    const chart = new Chart(canvas, buildConfig() as any);
    return () => chart.destroy();
  }, []);
  return (
    <div style={{ position: "absolute", left: 0, top: 0, width: 1878, height: 910, background: "#000" }}>
      <canvas ref={ref} width={1878} height={910} style={{ display: "block", width: 1878, height: 910 }} />
    </div>
  );
}
